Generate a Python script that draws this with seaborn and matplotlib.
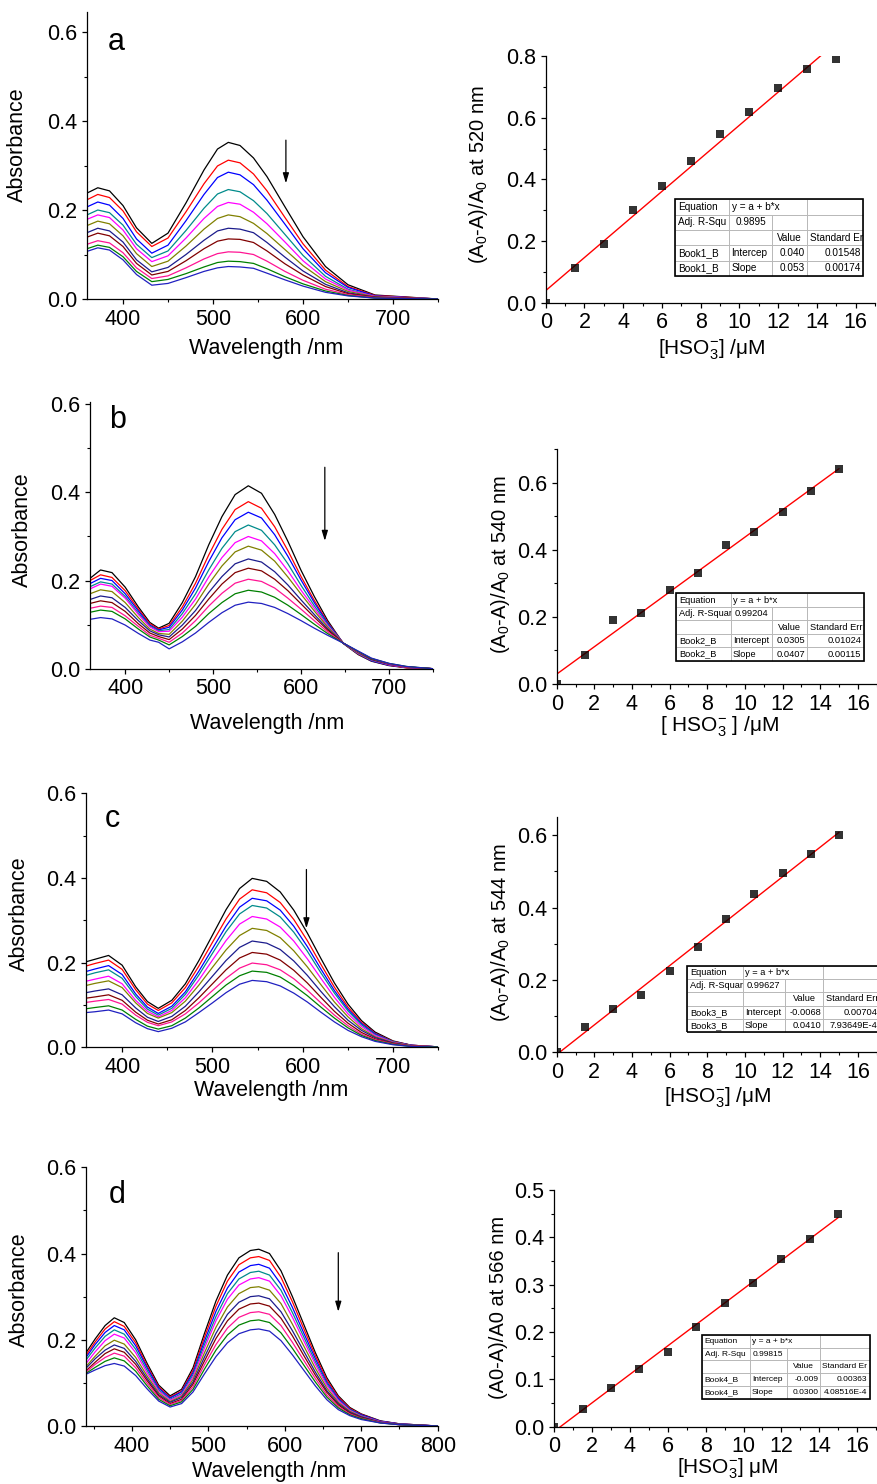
import matplotlib
matplotlib.use("Agg")
import matplotlib.pyplot as plt
import seaborn as sns
import pandas as pd
from matplotlib.ticker import MultipleLocator, FormatStrFormatter
from matplotlib.patches import Rectangle

# -------------------------------
# Spectra (absorbance), 11 curves per panel
# -------------------------------
wl_a = [360, 372, 385, 400, 415, 432, 450, 470, 490, 505, 517, 530, 545, 560, 580, 600, 625, 650, 680, 750]
abs_a = [
    [0.238, 0.250, 0.243, 0.210, 0.160, 0.125, 0.148, 0.216, 0.290, 0.337, 0.352, 0.345, 0.317, 0.275, 0.207, 0.140, 0.073, 0.032, 0.009, 0.000],
    [0.223, 0.235, 0.228, 0.198, 0.151, 0.118, 0.137, 0.196, 0.259, 0.299, 0.312, 0.306, 0.281, 0.243, 0.183, 0.124, 0.065, 0.028, 0.008, 0.000],
    [0.207, 0.218, 0.211, 0.181, 0.135, 0.103, 0.121, 0.176, 0.235, 0.273, 0.285, 0.279, 0.257, 0.222, 0.168, 0.113, 0.059, 0.026, 0.007, 0.000],
    [0.189, 0.200, 0.194, 0.166, 0.123, 0.093, 0.108, 0.154, 0.204, 0.236, 0.246, 0.241, 0.221, 0.192, 0.145, 0.098, 0.051, 0.022, 0.006, 0.000],
    [0.179, 0.189, 0.183, 0.155, 0.113, 0.084, 0.097, 0.137, 0.181, 0.208, 0.217, 0.213, 0.195, 0.169, 0.128, 0.086, 0.045, 0.020, 0.006, 0.000],
    [0.165, 0.175, 0.169, 0.142, 0.102, 0.073, 0.085, 0.119, 0.157, 0.181, 0.189, 0.185, 0.170, 0.147, 0.111, 0.075, 0.039, 0.017, 0.005, 0.000],
    [0.149, 0.159, 0.153, 0.128, 0.088, 0.061, 0.071, 0.100, 0.132, 0.153, 0.159, 0.157, 0.149, 0.127, 0.094, 0.063, 0.033, 0.014, 0.004, 0.000],
    [0.139, 0.148, 0.142, 0.118, 0.080, 0.054, 0.062, 0.086, 0.113, 0.130, 0.135, 0.134, 0.127, 0.108, 0.079, 0.054, 0.028, 0.012, 0.004, 0.000],
    [0.123, 0.131, 0.126, 0.104, 0.070, 0.046, 0.052, 0.070, 0.090, 0.102, 0.106, 0.105, 0.100, 0.085, 0.062, 0.042, 0.022, 0.010, 0.003, 0.000],
    [0.113, 0.121, 0.116, 0.095, 0.062, 0.039, 0.044, 0.057, 0.072, 0.082, 0.085, 0.084, 0.080, 0.068, 0.050, 0.034, 0.018, 0.008, 0.002, 0.000],
    [0.107, 0.115, 0.110, 0.088, 0.055, 0.031, 0.035, 0.048, 0.062, 0.070, 0.073, 0.072, 0.069, 0.058, 0.043, 0.029, 0.015, 0.007, 0.002, 0.000],
]

wl_b = [360, 372, 385, 400, 415, 428, 438, 450, 465, 480, 495, 510, 525, 540, 555, 570, 585, 600, 615, 630, 648, 665, 680, 700, 720, 750]
abs_b = [
    [0.205, 0.224, 0.218, 0.185, 0.140, 0.105, 0.092, 0.103, 0.150, 0.209, 0.281, 0.345, 0.395, 0.415, 0.398, 0.350, 0.289, 0.223, 0.164, 0.110, 0.057, 0.032, 0.017, 0.007, 0.002, 0.000],
    [0.200, 0.213, 0.207, 0.177, 0.135, 0.102, 0.090, 0.098, 0.140, 0.194, 0.258, 0.316, 0.361, 0.379, 0.364, 0.322, 0.268, 0.209, 0.155, 0.106, 0.058, 0.033, 0.018, 0.008, 0.002, 0.000],
    [0.193, 0.205, 0.200, 0.170, 0.131, 0.099, 0.088, 0.094, 0.133, 0.183, 0.243, 0.297, 0.338, 0.355, 0.342, 0.304, 0.255, 0.201, 0.150, 0.104, 0.058, 0.034, 0.018, 0.008, 0.003, 0.000],
    [0.186, 0.197, 0.192, 0.164, 0.126, 0.097, 0.086, 0.089, 0.125, 0.170, 0.224, 0.273, 0.311, 0.326, 0.314, 0.281, 0.238, 0.189, 0.143, 0.101, 0.058, 0.034, 0.019, 0.009, 0.003, 0.000],
    [0.181, 0.192, 0.187, 0.160, 0.123, 0.095, 0.084, 0.085, 0.117, 0.158, 0.208, 0.252, 0.286, 0.300, 0.290, 0.261, 0.222, 0.178, 0.137, 0.098, 0.058, 0.035, 0.020, 0.009, 0.003, 0.000],
    [0.170, 0.179, 0.175, 0.150, 0.116, 0.090, 0.080, 0.078, 0.108, 0.146, 0.192, 0.233, 0.265, 0.278, 0.269, 0.244, 0.208, 0.169, 0.131, 0.095, 0.058, 0.036, 0.021, 0.010, 0.004, 0.000],
    [0.157, 0.165, 0.161, 0.139, 0.109, 0.086, 0.077, 0.072, 0.099, 0.132, 0.173, 0.209, 0.238, 0.249, 0.242, 0.220, 0.190, 0.156, 0.123, 0.091, 0.058, 0.037, 0.021, 0.010, 0.004, 0.000],
    [0.148, 0.154, 0.150, 0.130, 0.102, 0.081, 0.073, 0.066, 0.090, 0.121, 0.158, 0.192, 0.218, 0.228, 0.222, 0.203, 0.177, 0.147, 0.117, 0.088, 0.058, 0.038, 0.022, 0.011, 0.004, 0.000],
    [0.137, 0.142, 0.139, 0.120, 0.096, 0.076, 0.069, 0.060, 0.081, 0.109, 0.142, 0.171, 0.194, 0.203, 0.198, 0.183, 0.160, 0.135, 0.109, 0.084, 0.058, 0.038, 0.023, 0.011, 0.004, 0.000],
    [0.128, 0.133, 0.130, 0.113, 0.090, 0.072, 0.065, 0.054, 0.073, 0.096, 0.125, 0.150, 0.170, 0.178, 0.174, 0.162, 0.144, 0.123, 0.101, 0.080, 0.058, 0.039, 0.023, 0.012, 0.005, 0.000],
    [0.112, 0.116, 0.113, 0.099, 0.080, 0.065, 0.060, 0.045, 0.061, 0.081, 0.105, 0.127, 0.144, 0.151, 0.148, 0.139, 0.125, 0.109, 0.092, 0.076, 0.058, 0.040, 0.024, 0.012, 0.005, 0.000],
]

wl_c = [360, 370, 385, 400, 415, 428, 440, 455, 470, 485, 500, 515, 530, 544, 560, 575, 590, 605, 620, 635, 650, 665, 680, 700, 720, 750]
abs_c = [
    [0.202, 0.208, 0.217, 0.194, 0.143, 0.108, 0.092, 0.111, 0.150, 0.205, 0.265, 0.325, 0.375, 0.399, 0.392, 0.367, 0.324, 0.270, 0.210, 0.152, 0.102, 0.063, 0.036, 0.015, 0.005, 0.001],
    [0.192, 0.198, 0.206, 0.184, 0.136, 0.102, 0.087, 0.105, 0.141, 0.192, 0.248, 0.303, 0.350, 0.372, 0.365, 0.342, 0.302, 0.252, 0.196, 0.142, 0.095, 0.059, 0.033, 0.014, 0.005, 0.001],
    [0.179, 0.185, 0.193, 0.172, 0.126, 0.095, 0.080, 0.097, 0.131, 0.180, 0.233, 0.286, 0.331, 0.352, 0.346, 0.324, 0.286, 0.238, 0.185, 0.134, 0.090, 0.056, 0.032, 0.013, 0.005, 0.001],
    [0.170, 0.176, 0.183, 0.163, 0.120, 0.090, 0.076, 0.092, 0.125, 0.171, 0.222, 0.273, 0.315, 0.335, 0.329, 0.308, 0.272, 0.227, 0.176, 0.128, 0.086, 0.053, 0.030, 0.013, 0.004, 0.001],
    [0.156, 0.161, 0.168, 0.150, 0.111, 0.085, 0.072, 0.087, 0.117, 0.159, 0.206, 0.252, 0.291, 0.309, 0.303, 0.284, 0.251, 0.209, 0.163, 0.118, 0.079, 0.049, 0.028, 0.012, 0.004, 0.001],
    [0.146, 0.151, 0.157, 0.141, 0.105, 0.080, 0.069, 0.082, 0.109, 0.147, 0.189, 0.230, 0.264, 0.281, 0.276, 0.259, 0.228, 0.190, 0.148, 0.107, 0.072, 0.044, 0.025, 0.011, 0.004, 0.001],
    [0.129, 0.133, 0.138, 0.124, 0.093, 0.071, 0.061, 0.073, 0.097, 0.131, 0.168, 0.205, 0.236, 0.251, 0.246, 0.231, 0.204, 0.170, 0.132, 0.096, 0.064, 0.040, 0.023, 0.010, 0.003, 0.001],
    [0.116, 0.119, 0.124, 0.111, 0.083, 0.064, 0.055, 0.065, 0.087, 0.117, 0.150, 0.183, 0.211, 0.224, 0.220, 0.206, 0.182, 0.152, 0.118, 0.085, 0.057, 0.035, 0.020, 0.009, 0.003, 0.001],
    [0.106, 0.109, 0.113, 0.102, 0.076, 0.059, 0.051, 0.060, 0.079, 0.105, 0.134, 0.163, 0.187, 0.199, 0.195, 0.183, 0.162, 0.135, 0.105, 0.076, 0.051, 0.031, 0.018, 0.008, 0.003, 0.001],
    [0.091, 0.094, 0.098, 0.088, 0.066, 0.050, 0.043, 0.051, 0.069, 0.093, 0.120, 0.147, 0.169, 0.180, 0.177, 0.166, 0.146, 0.122, 0.095, 0.069, 0.046, 0.028, 0.016, 0.007, 0.002, 0.001],
    [0.082, 0.084, 0.088, 0.079, 0.058, 0.044, 0.037, 0.045, 0.060, 0.082, 0.105, 0.129, 0.149, 0.158, 0.155, 0.145, 0.128, 0.107, 0.083, 0.060, 0.040, 0.025, 0.014, 0.006, 0.002, 0.000],
]

wl_d = [340, 352, 365, 377, 390, 405, 420, 435, 450, 465, 480, 495, 510, 525, 540, 555, 566, 580, 595, 610, 625, 640, 655, 670, 685, 700, 725, 750, 800]
abs_d = [
    [0.170, 0.202, 0.233, 0.251, 0.240, 0.200, 0.145, 0.095, 0.070, 0.085, 0.135, 0.215, 0.290, 0.350, 0.390, 0.407, 0.410, 0.400, 0.360, 0.300, 0.235, 0.170, 0.112, 0.070, 0.043, 0.028, 0.012, 0.005, 0.000],
    [0.164, 0.195, 0.225, 0.242, 0.231, 0.193, 0.139, 0.091, 0.067, 0.081, 0.129, 0.206, 0.278, 0.336, 0.374, 0.390, 0.393, 0.384, 0.345, 0.288, 0.225, 0.163, 0.107, 0.067, 0.041, 0.027, 0.011, 0.005, 0.000],
    [0.159, 0.189, 0.217, 0.233, 0.223, 0.186, 0.135, 0.088, 0.065, 0.079, 0.124, 0.197, 0.266, 0.320, 0.357, 0.372, 0.375, 0.366, 0.329, 0.275, 0.215, 0.156, 0.102, 0.064, 0.039, 0.026, 0.011, 0.005, 0.000],
    [0.153, 0.181, 0.208, 0.223, 0.213, 0.178, 0.129, 0.084, 0.062, 0.075, 0.119, 0.189, 0.254, 0.307, 0.341, 0.356, 0.359, 0.350, 0.315, 0.263, 0.206, 0.149, 0.098, 0.061, 0.038, 0.024, 0.010, 0.004, 0.000],
    [0.145, 0.172, 0.198, 0.213, 0.204, 0.170, 0.123, 0.081, 0.060, 0.072, 0.114, 0.181, 0.244, 0.294, 0.327, 0.341, 0.344, 0.336, 0.302, 0.252, 0.197, 0.143, 0.094, 0.059, 0.036, 0.023, 0.010, 0.004, 0.000],
    [0.138, 0.162, 0.186, 0.199, 0.190, 0.159, 0.116, 0.077, 0.057, 0.069, 0.108, 0.170, 0.229, 0.276, 0.307, 0.321, 0.323, 0.315, 0.284, 0.236, 0.185, 0.134, 0.088, 0.055, 0.034, 0.022, 0.009, 0.004, 0.000],
    [0.134, 0.156, 0.176, 0.188, 0.180, 0.150, 0.110, 0.073, 0.055, 0.066, 0.102, 0.160, 0.215, 0.259, 0.287, 0.300, 0.302, 0.295, 0.265, 0.221, 0.173, 0.125, 0.082, 0.052, 0.032, 0.021, 0.009, 0.004, 0.000],
    [0.128, 0.148, 0.168, 0.179, 0.171, 0.143, 0.105, 0.070, 0.052, 0.062, 0.097, 0.151, 0.203, 0.244, 0.271, 0.283, 0.285, 0.278, 0.250, 0.209, 0.163, 0.118, 0.078, 0.049, 0.030, 0.019, 0.008, 0.003, 0.000],
    [0.125, 0.143, 0.159, 0.169, 0.162, 0.135, 0.099, 0.066, 0.050, 0.059, 0.091, 0.142, 0.189, 0.227, 0.252, 0.263, 0.265, 0.259, 0.233, 0.194, 0.152, 0.110, 0.072, 0.045, 0.028, 0.018, 0.008, 0.003, 0.000],
    [0.122, 0.136, 0.150, 0.158, 0.151, 0.127, 0.093, 0.062, 0.047, 0.056, 0.085, 0.132, 0.176, 0.211, 0.234, 0.244, 0.246, 0.240, 0.216, 0.180, 0.141, 0.102, 0.067, 0.042, 0.026, 0.017, 0.007, 0.003, 0.000],
    [0.120, 0.130, 0.140, 0.145, 0.139, 0.117, 0.086, 0.058, 0.044, 0.052, 0.079, 0.121, 0.161, 0.193, 0.214, 0.223, 0.225, 0.220, 0.198, 0.165, 0.129, 0.093, 0.061, 0.038, 0.024, 0.015, 0.007, 0.003, 0.000],
]

spec_colors = ["#000000", "#ff0000", "#0000ff", "#008b8b", "#ff00ff", "#808000",
               "#1c1c8c", "#800000", "#ff1493", "#008000", "#2020c0"]

# -------------------------------
# Titration points (A0-A)/A0 vs [HSO3-]
# -------------------------------
conc = [0, 1.5, 3, 4.5, 6, 7.5, 9, 10.5, 12, 13.5, 15]
ratio_a = [0, 0.114, 0.190, 0.301, 0.380, 0.460, 0.548, 0.618, 0.696, 0.758, 0.791]
ratio_b = [0, 0.085, 0.190, 0.212, 0.280, 0.331, 0.414, 0.453, 0.512, 0.574, 0.639]
ratio_c = [0, 0.068, 0.118, 0.157, 0.223, 0.290, 0.368, 0.438, 0.496, 0.549, 0.601]
ratio_d = [0, 0.038, 0.082, 0.122, 0.158, 0.211, 0.261, 0.304, 0.354, 0.397, 0.449]

# fit tables as printed on the figure
table_a = [["Equation", "y = a + b*x", "", ""],
           ["Adj. R-Squ", "0.9895", "", ""],
           ["", "", "Value", "Standard Er"],
           ["Book1_B", "Intercep", "0.040", "0.01548"],
           ["Book1_B", "Slope", "0.053", "0.00174"]]
table_b = [["Equation", "y = a + b*x", "", ""],
           ["Adj. R-Squar", "0.99204", "", ""],
           ["", "", "Value", "Standard Err"],
           ["Book2_B", "Intercept", "0.0305", "0.01024"],
           ["Book2_B", "Slope", "0.0407", "0.00115"]]
table_c = [["Equation", "y = a + b*x", "", ""],
           ["Adj. R-Squar", "0.99627", "", ""],
           ["", "", "Value", "Standard Err"],
           ["Book3_B", "Intercept", "-0.0068", "0.00704"],
           ["Book3_B", "Slope", "0.0410", "7.93649E-4"]]
table_d = [["Equation", "y = a + b*x", "", ""],
           ["Adj. R-Squ", "0.99815", "", ""],
           ["", "", "Value", "Standard Er"],
           ["Book4_B", "Intercep", "-0.009", "0.00363"],
           ["Book4_B", "Slope", "0.0300", "4.08516E-4"]]

# -------------------------------
# Style
# -------------------------------
sns.set_style("ticks")
plt.rcParams["font.family"] = ["Liberation Sans", "DejaVu Sans"]
plt.rcParams["mathtext.fontset"] = "custom"
plt.rcParams["mathtext.rm"] = "Liberation Sans"
plt.rcParams["mathtext.it"] = "Liberation Sans:italic"
plt.rcParams["mathtext.bf"] = "Liberation Sans:bold"
plt.rcParams["axes.edgecolor"] = "black"
plt.rcParams["axes.linewidth"] = 0.9
plt.rcParams["text.color"] = "black"
plt.rcParams["axes.labelcolor"] = "black"
for a in ("xtick", "ytick"):
    plt.rcParams[a + ".color"] = "black"
    plt.rcParams[a + ".labelcolor"] = "black"
    plt.rcParams[a + ".direction"] = "out"
    plt.rcParams[a + ".major.size"] = 3.5
    plt.rcParams[a + ".minor.size"] = 2
    plt.rcParams[a + ".major.width"] = 0.9
    plt.rcParams[a + ".minor.width"] = 0.8
    plt.rcParams[a + ".labelsize"] = 15.5

W, H = 877, 1484
fig = plt.figure(figsize=(W / 100, H / 100), dpi=100)


def px_axes(x0, x1, y_top, y_bot):
    return fig.add_axes([x0 / W, 1 - y_bot / H, (x1 - x0) / W, (y_bot - y_top) / H])


def spectra(ax, wl, curves, xlim, ylim, arrow, letter, ylab_pos, xlab_pos):
    rows = []
    for k, ys in enumerate(curves):
        for w, v in zip(wl, ys, strict=True):
            rows.append((w, v, f"c{k}"))
    df = pd.DataFrame(rows, columns=["wl", "A", "curve"])
    sns.lineplot(data=df, x="wl", y="A", hue="curve", palette=spec_colors,
                 estimator=None, legend=False, lw=0.9, ax=ax)
    ax.set_xlim(*xlim)
    ax.set_ylim(*ylim)
    ax.xaxis.set_major_locator(MultipleLocator(100))
    ax.xaxis.set_minor_locator(MultipleLocator(50))
    ax.yaxis.set_major_locator(MultipleLocator(0.2))
    ax.yaxis.set_minor_locator(MultipleLocator(0.1))
    ax.yaxis.set_major_formatter(FormatStrFormatter("%.1f"))
    ax.set_xlabel("Wavelength /nm", fontsize=15.5)
    ax.set_ylabel("Absorbance", fontsize=15.5)
    ax.yaxis.set_label_coords(*ylab_pos)
    ax.xaxis.set_label_coords(*xlab_pos)
    ax.annotate("", xy=(arrow[0], arrow[2]), xytext=(arrow[0], arrow[1]),
                arrowprops=dict(arrowstyle="-|>,head_length=0.6,head_width=0.18",
                                color="black", lw=0.9, shrinkA=0, shrinkB=0))
    ax.text(letter[1], letter[2], letter[0], fontsize=22, ha="left", va="center")
    sns.despine(ax=ax)


def fit_panel(ax, ratio, ylim, ystep, ylabel, xlabel, ylab_pos, xlab_pos,
              table, col_w, bbox, tfs):
    sns.regplot(x=conc, y=ratio, ax=ax, ci=None, marker="s", color="black",
                scatter_kws={"s": 30, "linewidths": 0, "zorder": 3},
                line_kws={"color": "red", "lw": 1.0, "zorder": 2})
    ax.set_xlim(0, 17)
    ax.set_ylim(*ylim)
    ax.xaxis.set_major_locator(MultipleLocator(2))
    ax.xaxis.set_minor_locator(MultipleLocator(1))
    ax.yaxis.set_major_locator(MultipleLocator(ystep))
    ax.yaxis.set_minor_locator(MultipleLocator(ystep / 2))
    ax.yaxis.set_major_formatter(FormatStrFormatter("%.1f"))
    ax.set_ylabel(ylabel, fontsize=14.5)
    ax.set_xlabel(xlabel, fontsize=15)
    ax.yaxis.set_label_coords(*ylab_pos)
    ax.xaxis.set_label_coords(*xlab_pos)
    sns.despine(ax=ax)

    # white backing + thin grey grid + dark frame, like the Origin fit table
    ax.add_patch(Rectangle((bbox[0], bbox[1]), bbox[2], bbox[3], transform=ax.transAxes,
                           fc="white", ec="none", clip_on=False, zorder=4))
    tot = sum(col_w)
    tb = ax.table(cellText=table, colWidths=[c / tot for c in col_w],
                  bbox=bbox, cellLoc="left")
    tb.set_zorder(5)
    tb.auto_set_font_size(False)
    tb.set_fontsize(tfs)
    for (r, c), cell in tb.get_celld().items():
        cell.set_facecolor("none")
        cell.set_edgecolor("#b8b8b8")
        cell.set_linewidth(0.6)
        cell.PAD = 0.05
        txt = cell.get_text()
        if c == 2 and r != 2:
            txt.set_horizontalalignment("right")
        elif c == 2:
            txt.set_horizontalalignment("center")
        elif c == 3 and r >= 3:
            txt.set_horizontalalignment("right")
        elif c == 1 and r == 1:
            txt.set_horizontalalignment("center")
    tb[0, 1].visible_edges = "BTL"
    tb[0, 2].visible_edges = "BTR"
    ax.add_patch(Rectangle((bbox[0], bbox[1]), bbox[2], bbox[3], transform=ax.transAxes,
                           fill=False, lw=1.2, ec="black", clip_on=False, zorder=6))


# -------------------------------
# Left column: spectra
# -------------------------------
ax = px_axes(87, 438, 12, 299)
spectra(ax, wl_a, abs_a, (360, 750), (0, 0.645), (581, 0.357, 0.26), ("a", 383, 0.578),
        (-0.168, 0.537), (0.51, -0.136))
ax = px_axes(90, 433, 401.6, 668.7)
spectra(ax, wl_b, abs_b, (360, 750), (0, 0.606), (627, 0.457, 0.29), ("b", 382, 0.564),
        (-0.166, 0.519), (0.515, -0.166))
ax = px_axes(86, 438.3, 793.3, 1047.3)
spectra(ax, wl_c, abs_c, (360, 750), (0, 0.6), (604, 0.42, 0.281), ("c", 381, 0.54),
        (-0.159, 0.525), (0.525, -0.129))
ax = px_axes(86, 437.7, 1167.3, 1426)
spectra(ax, wl_d, abs_d, (340, 800), (0, 0.6), (670, 0.402, 0.265), ("d", 370, 0.536),
        (-0.159, 0.526), (0.52, -0.135))

# -------------------------------
# Right column: linear fits
# -------------------------------
hso3 = r"HSO$_3^{-}$"
ax = px_axes(545.7, 875, 56, 302.7)
fit_panel(ax, ratio_a, (0, 0.8), 0.2, r"(A$_0$-A)/A$_0$ at 520 nm", "[" + hso3 + "] /μM",
          (-0.169, 0.52), (0.504, -0.143), table_a, [163, 127, 105, 170],
          [0.393, 0.108, 0.572, 0.311], 7.2)
ax = px_axes(556.7, 876.7, 449, 684)
fit_panel(ax, ratio_b, (0, 0.7), 0.2, r"(A$_0$-A)/A$_0$ at 540 nm", "[ " + hso3 + " ] /μM",
          (-0.141, 0.51), (0.51, -0.13), table_b, [164, 125, 105, 171],
          [0.373, 0.098, 0.588, 0.288], 6.7)
ax = px_axes(556.7, 876.7, 817.3, 1052)
fit_panel(ax, ratio_c, (0, 0.65), 0.2, r"(A$_0$-A)/A$_0$ at 544 nm", "[" + hso3 + "] /μM",
          (-0.141, 0.507), (0.503, -0.141), table_c, [166, 127, 115, 170],
          [0.408, 0.084, 0.602, 0.284], 6.7)
ax = px_axes(554.3, 876, 1190, 1426.7)
fit_panel(ax, ratio_d, (0, 0.5), 0.1, "(A0-A)/A0 at 566 nm", "[" + hso3 + "] μM",
          (-0.143, 0.504), (0.538, -0.128), table_d, [143, 110, 100, 150],
          [0.46, 0.118, 0.521, 0.27], 6.0)

fig.savefig("out.png", dpi=100)
